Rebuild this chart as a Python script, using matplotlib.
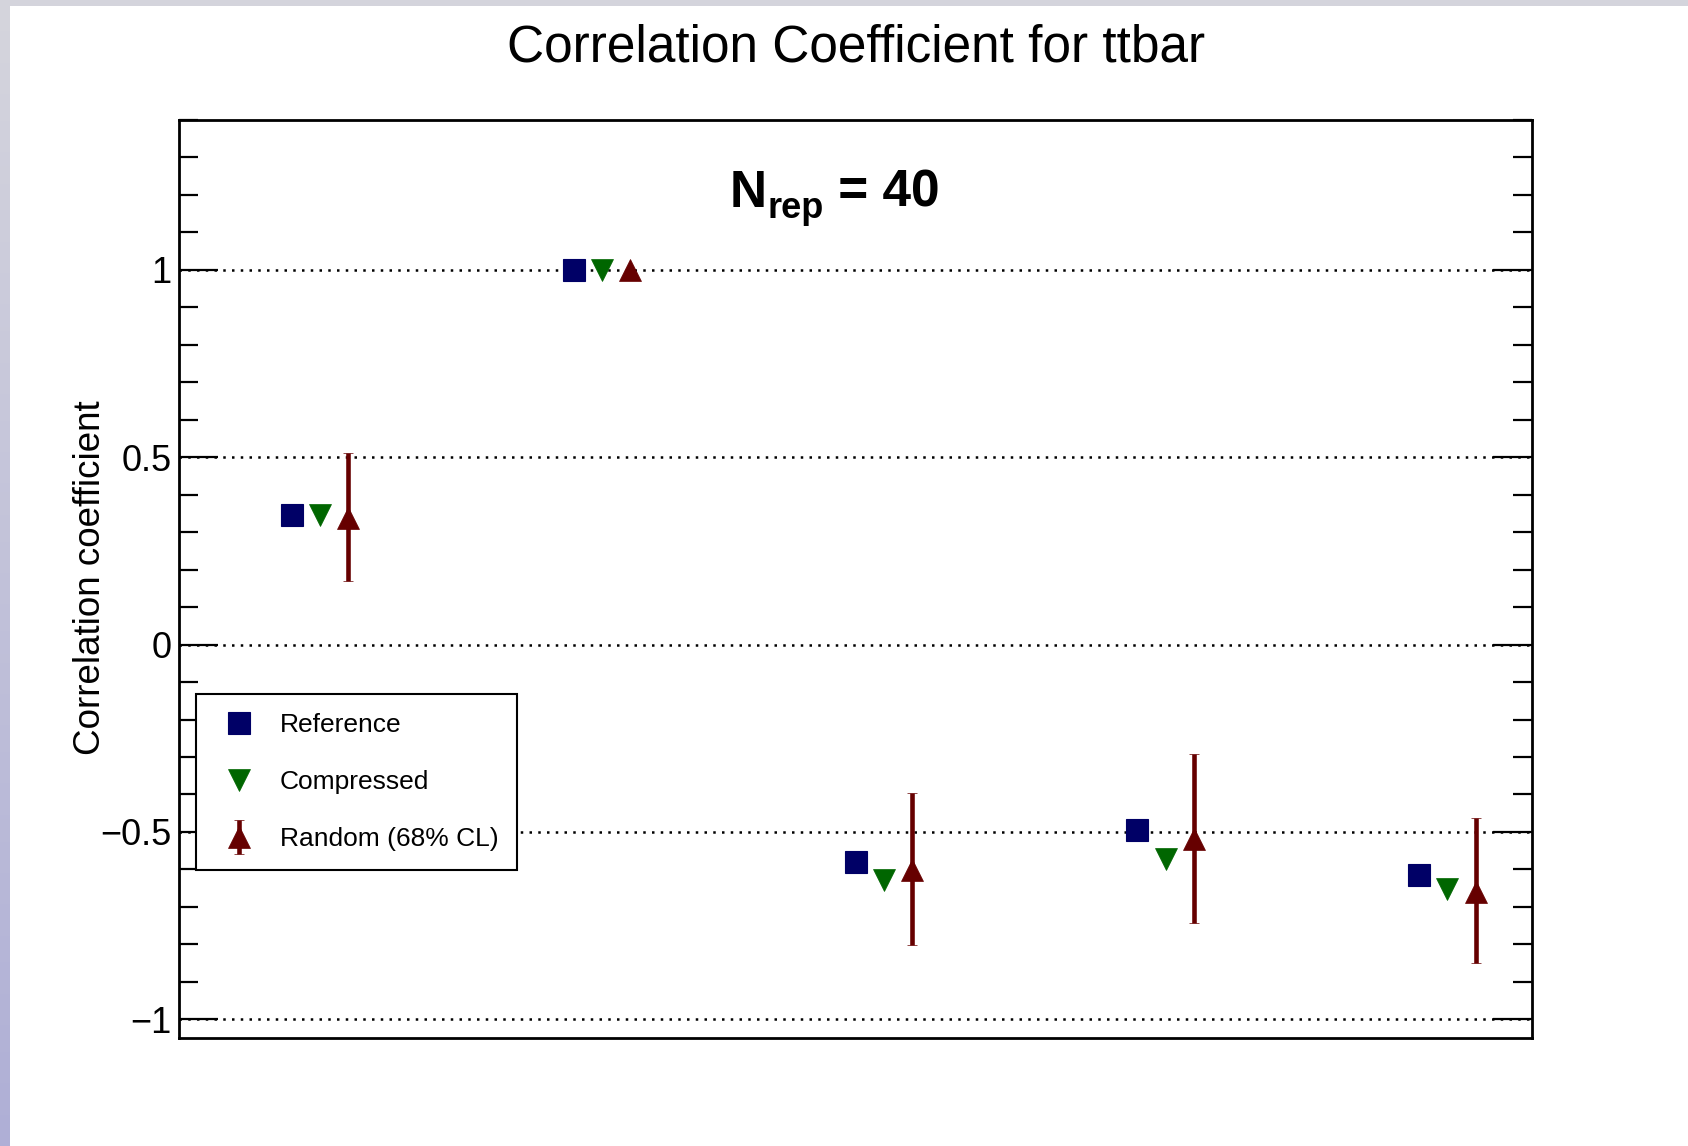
import numpy as np
import matplotlib
matplotlib.use("Agg")
import matplotlib.pyplot as plt
from matplotlib.ticker import MultipleLocator, FixedLocator, FixedFormatter
from matplotlib.legend_handler import HandlerErrorbar
from matplotlib.patches import Rectangle
from matplotlib.transforms import offset_copy

plt.rcParams['font.family'] = ['Liberation Sans', 'DejaVu Sans']

# ---- data -------------------------------------------------------------
groups = [0, 1, 2, 3, 4]
reference = [0.347, 1.0, -0.581, -0.495, -0.616]
compressed = [0.347, 1.0, -0.628, -0.571, -0.653]
random_central = [0.339, 1.0, -0.601, -0.520, -0.661]
random_low = [0.170, 1.0, -0.802, -0.744, -0.850]
random_high = [0.511, 1.0, -0.396, -0.291, -0.464]
series_labels = ["Reference", "Compressed", "Random (68% CL)"]
y_ticks = [-1, -0.5, 0, 0.5, 1]
y_tick_labels = ["\u22121", "\u22120.5", "0", "0.5", "1"]
title = "Correlation Coefficient for ttbar"
y_label = "Correlation coefficient"
n_rep = 40

# ---- figure -----------------------------------------------------------
W, H = 1688, 1146
fig = plt.figure(figsize=(W / 100, H / 100), dpi=100)
fig.patch.set_facecolor("white")

# window frame strips (left gradient, top bar)
strip = fig.add_axes([0, 0, 10 / W, 1])
top_c = np.array([0xd5, 0xd5, 0xdd]) / 255
bot_c = np.array([0xaf, 0xaf, 0xd6]) / 255
t = np.linspace(0, 1, 256)[:, None]
grad = (top_c[None, :] * (1 - t) + bot_c[None, :] * t)[:, None, :]
strip.imshow(grad, aspect="auto", extent=[0, 1, 0, 1], origin="upper")
strip.set_axis_off()
fig.patches.append(Rectangle((0, 1 - 6 / H), 1, 6 / H, transform=fig.transFigure,
                             facecolor="#d4d4dc", edgecolor="none", zorder=5))

ax = fig.add_axes([179 / W, 1 - 1038 / H, (1532 - 179) / W, (1038 - 120) / H])
ax.set_xlim(-0.5, 4.3)
ax.set_ylim(-1.05, 1.4)

for s in ax.spines.values():
    s.set_linewidth(2.0)
    s.set_color("black")

ax.yaxis.set_major_locator(FixedLocator(y_ticks))
ax.yaxis.set_major_formatter(FixedFormatter(y_tick_labels))
ax.yaxis.set_minor_locator(MultipleLocator(0.1))
ax.tick_params(axis="y", which="both", direction="in", left=True, right=True,
               labelsize=26, pad=5.5, colors="black")
ax.tick_params(axis="y", which="major", length=28, width=1.6)
ax.tick_params(axis="y", which="minor", length=14, width=1.6)
ax.tick_params(axis="x", which="both", bottom=False, top=False, labelbottom=False)

# dotted reference lines at the labelled values
for yv in y_ticks:
    ax.axhline(yv, color="black", lw=1.8, ls=(0, (1, 2.5)), zorder=1)

x = np.array(groups, dtype=float)
rc = np.array(random_central)
yerr = [rc - np.array(random_low), np.array(random_high) - rc]

h_ref, = ax.plot(x - 0.1, reference, "s", ms=16.5, color="#000066",
                 mec="#000066", mew=0.8, zorder=4, label=series_labels[0])
h_cmp, = ax.plot(x, compressed, "v", ms=16, color="#006600",
                 mec="#006600", mew=0.5, zorder=4, label=series_labels[1])
h_rnd = ax.errorbar(x + 0.1, random_central, yerr=yerr, fmt="^", ms=16,
                    color="#660000", mec="#660000", mew=0.5, ecolor="#660000",
                    elinewidth=3.3, capsize=3.6, capthick=3.3, zorder=4,
                    label=series_labels[2])

leg = ax.legend([h_ref, h_cmp, h_rnd], series_labels,
                bbox_to_anchor=(0.0126, 0.187, 0.2374, 0.1877), loc="upper left",
                mode="expand", borderaxespad=0, fontsize=19, labelspacing=1.25,
                borderpad=0.72, handlelength=1.8, handletextpad=0.65,
                fancybox=False, framealpha=1, edgecolor="black",
                handler_map={type(h_rnd): HandlerErrorbar(yerr_size=0.65)})
leg.get_frame().set_linewidth(1.5)
leg.set_zorder(6)

# N_rep annotation: main letter, lowered subscript, then the value
renderer = fig.canvas.get_renderer()
x0, y0 = 0.4072, 0.9056
t_n = ax.text(x0, y0, "N", transform=ax.transAxes, ha="left", va="baseline",
              fontsize=37, fontweight="bold")
bb = t_n.get_window_extent(renderer)
x_sub = ax.transAxes.inverted().transform((bb.x1, 0))[0]
t_sub = ax.text(x_sub, y0, "rep",
                transform=offset_copy(ax.transAxes, fig=fig, x=0.5, y=-8, units="points"),
                ha="left", va="baseline", fontsize=26, fontweight="bold")
bb2 = t_sub.get_window_extent(renderer)
x_eq = ax.transAxes.inverted().transform((bb2.x1, 0))[0]
ax.text(x_eq, y0, f" = {n_rep}", transform=ax.transAxes, ha="left",
        va="baseline", fontsize=37, fontweight="bold")

fig.text(856 / W, 1 - 62 / H, title, ha="center", va="baseline", fontsize=37)
fig.text(91 / W, 1 - 578 / H, y_label, rotation=90, ha="center", va="center",
         fontsize=26.5)

fig.savefig("out.png", dpi=100)
